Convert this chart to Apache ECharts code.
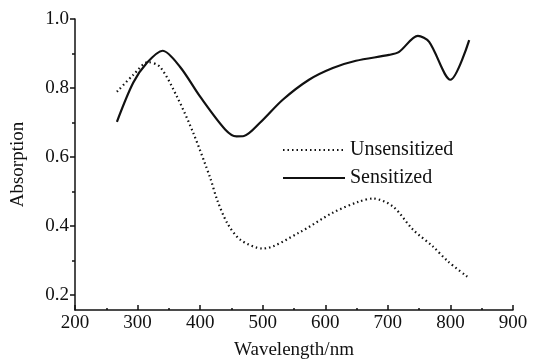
<!DOCTYPE html>
<html>
<head>
<meta charset="utf-8">
<script src="https://cdn.jsdelivr.net/npm/echarts@6/dist/echarts.min.js"></script>
<style>
  html, body { margin: 0; padding: 0; background: #fff; }
  #chart { width: 536px; height: 363px; }
</style>
</head>
<body>
<div id="chart"></div>
<script>
// wavelength (nm) / absorption
const sensitizedX = [267, 293, 315, 340, 368, 400, 440, 458, 470, 496, 532, 574, 612, 649, 702, 718, 748, 766, 800, 830];
const sensitizedY = [0.702, 0.815, 0.873, 0.908, 0.861, 0.775, 0.68, 0.66, 0.661, 0.70, 0.766, 0.824, 0.858, 0.879, 0.896, 0.905, 0.951, 0.934, 0.824, 0.939];

const unsensitizedX = [267, 293, 317, 336, 363, 389, 416, 427, 443, 464, 500, 558, 612, 654, 676, 708, 740, 772, 796, 828];
const unsensitizedY = [0.789, 0.838, 0.875, 0.861, 0.775, 0.67, 0.54, 0.477, 0.41, 0.361, 0.335, 0.381, 0.439, 0.471, 0.48, 0.457, 0.39, 0.341, 0.298, 0.252];

const yMajorTicks = [0.2, 0.4, 0.6, 0.8, 1.0];
const yMinorTicks = [0.3, 0.5, 0.7, 0.9];

const font = "Liberation Serif";
const ink = "#111";

const chart = echarts.init(document.getElementById("chart"));
chart.setOption({
  animation: false,
  textStyle: { fontFamily: font, color: ink },
  grid: { left: 75, right: 23, top: 19, bottom: 53, outerBoundsMode: "none" },
  legend: {
    data: ["Unsensitized", "Sensitized"],
    orient: "vertical",
    left: 277,
    top: 135,
    itemWidth: 62,
    itemHeight: 18,
    itemGap: 8,
    itemStyle: { opacity: 0 },
    textStyle: { fontFamily: font, fontSize: 20, color: ink }
  },
  xAxis: {
    type: "value",
    min: 200,
    max: 900,
    interval: 100,
    name: "Wavelength/nm",
    nameLocation: "middle",
    nameGap: 31,
    nameTextStyle: { fontFamily: font, fontSize: 19, color: ink },
    axisLine: { lineStyle: { color: ink, width: 1.5 } },
    axisTick: { inside: true, length: 5, lineStyle: { color: ink, width: 1.5 } },
    minorTick: { show: true, splitNumber: 2, length: 2, lineStyle: { color: ink, width: 1.5 } },
    axisLabel: { fontFamily: font, fontSize: 19, color: ink, margin: 4 },
    splitLine: { show: false }
  },
  yAxis: [
    {
      type: "value",
      min: 0.157,
      max: 1.0,
      name: "Absorption",
      nameLocation: "middle",
      nameGap: 47,
      nameTextStyle: { fontFamily: font, fontSize: 19, color: ink },
      axisLine: { show: true, lineStyle: { color: ink, width: 1.5 } },
      axisTick: { show: true, length: 5, customValues: yMajorTicks, lineStyle: { color: ink, width: 1.5 } },
      axisLabel: {
        customValues: yMajorTicks,
        fontFamily: font, fontSize: 19, color: ink, margin: 6,
        formatter: (v) => v.toFixed(1)
      },
      splitLine: { show: false }
    },
    {
      type: "value",
      min: 0.157,
      max: 1.0,
      position: "left",
      axisLine: { show: false },
      axisTick: { show: true, length: 3, customValues: yMinorTicks, lineStyle: { color: ink, width: 1.5 } },
      axisLabel: { show: false },
      splitLine: { show: false }
    }
  ],
  series: [
    {
      name: "Unsensitized",
      type: "line",
      smooth: 0.3,
      symbol: "none",
      color: ink,
      lineStyle: { color: ink, width: 2.2, type: [1.5, 3] },
      data: unsensitizedX.map((x, i) => [x, unsensitizedY[i]])
    },
    {
      name: "Sensitized",
      type: "line",
      smooth: 0.3,
      symbol: "none",
      color: ink,
      lineStyle: { color: ink, width: 2.2 },
      data: sensitizedX.map((x, i) => [x, sensitizedY[i]])
    }
  ]
});
</script>
</body>
</html>
